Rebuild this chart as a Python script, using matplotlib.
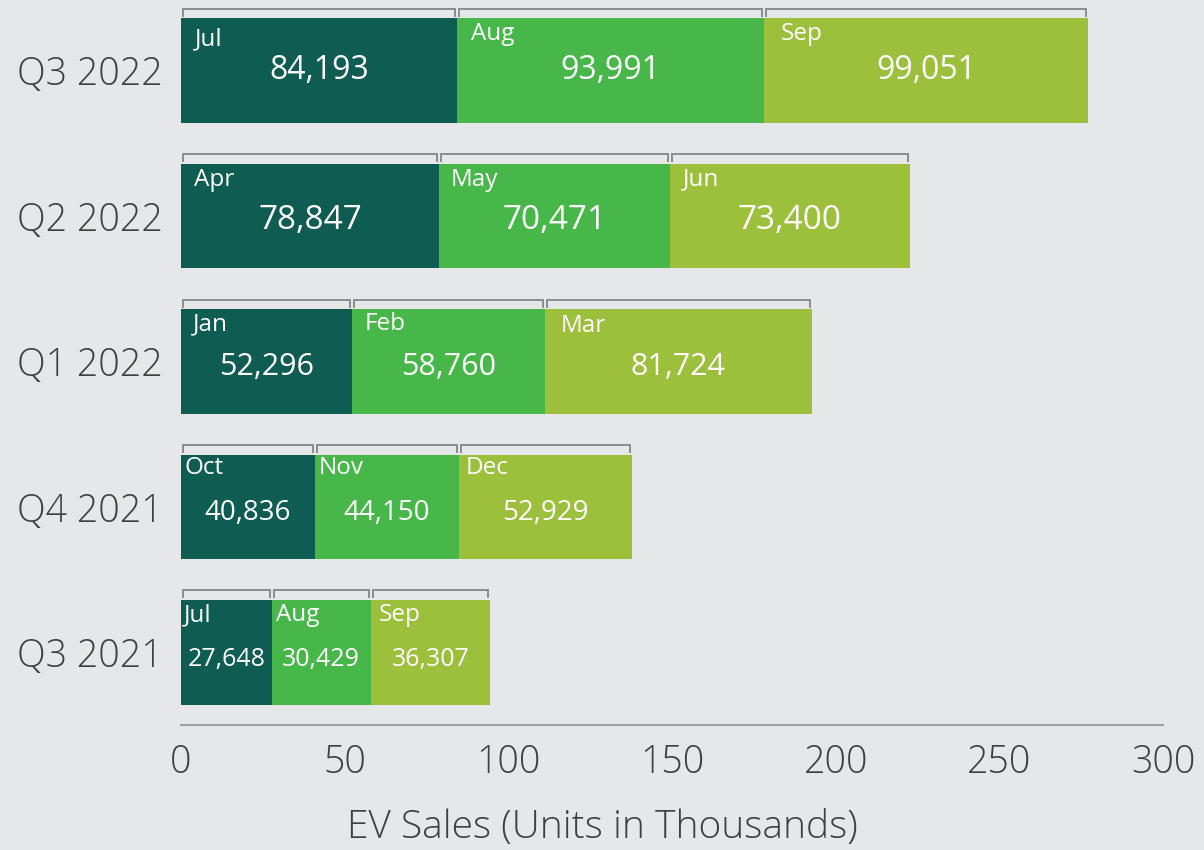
import matplotlib
matplotlib.use("Agg")
import matplotlib.pyplot as plt

plt.rcParams['font.family'] = ['Open Sans', 'DejaVu Sans']

# ---- data (bottom to top) ----
quarters = ["Q3 2021", "Q4 2021", "Q1 2022", "Q2 2022", "Q3 2022"]
months = [
    ["Jul", "Aug", "Sep"],
    ["Oct", "Nov", "Dec"],
    ["Jan", "Feb", "Mar"],
    ["Apr", "May", "Jun"],
    ["Jul", "Aug", "Sep"],
]
first_month = [27648, 40836, 52296, 78847, 84193]
second_month = [30429, 44150, 58760, 70471, 93991]
third_month = [36307, 52929, 81724, 73400, 99051]
xticks = [0, 50, 100, 150, 200, 250, 300]
xlabel = "EV Sales (Units in Thousands)"

# ---- style ----
bg = "#e6e7e9"
colors = ["#0f5c52", "#47b74a", "#9dc03c"]
text_dark = "#404040"
bracket_col = "#8c8c8c"
value_sizes = [18, 20, 22, 24, 23]
month_xoff = [[3, 4, 8], [3, 4, 6], [12, 12, 16], [13, 12, 13], [14, 14, 16]]
month_yoff = [[15, 15, 15], [13.5, 13.5, 13.5], [15, 15, 16.5], [16, 16, 16], [21.5, 16, 16]]
value_yoff = [7.5, 6, 5.5, 4, 0]

fig = plt.figure(figsize=(12.04, 8.5), dpi=100, facecolor=bg)
ax = fig.add_axes([181 / 1204, 125 / 850, (1163 - 181) / 1204, 727 / 850])
ax.set_facecolor(bg)
ax.set_xlim(0, 300)
ax.set_ylim(-0.5, 4.5)

series = [first_month, second_month, third_month]
bar_h = 0.72
px_per_unit_y = 727 / 5.0
px_per_unit_x = (1163 - 181) / 300.0

for i, q in enumerate(quarters):
    left = 0.0
    for j in range(3):
        v = series[j][i] / 1000.0
        ax.barh(i, v, left=left, height=bar_h, color=colors[j], edgecolor="none", zorder=2)
        top = i + bar_h / 2
        # bracket above the segment
        inset = 2 / px_per_unit_x
        yb = top + 9.5 / px_per_unit_y
        yt = yb - 7 / px_per_unit_y
        ax.plot([left + inset, left + inset, left + v - inset, left + v - inset],
                [yt, yb, yb, yt], color=bracket_col, lw=1.4, clip_on=False,
                solid_joinstyle="miter", zorder=3)
        # month label
        ax.annotate(months[i][j], xy=(left, top), xytext=(month_xoff[i][j], -month_yoff[i][j]),
                    textcoords="offset pixels", ha="left", va="center",
                    fontsize=17.5, color="white", fontweight="medium", zorder=4)
        # value label
        ax.annotate(f"{series[j][i]:,}", xy=(left + v / 2, i), xytext=(0, -value_yoff[i]),
                    textcoords="offset pixels", ha="center", va="center",
                    fontsize=value_sizes[i], color="white", fontweight="normal", zorder=4)
        left += v

ax.set_yticks(range(len(quarters)))
ax.set_yticklabels(quarters, fontsize=27, color=text_dark, fontweight="light")
ax.set_xticks(xticks)
ax.set_xticklabels([str(t) for t in xticks], fontsize=27, color=text_dark, fontweight="light")
ax.tick_params(axis="both", length=0)
ax.tick_params(axis="x", pad=13)
ax.tick_params(axis="y", pad=13)
for s in ["top", "right", "left"]:
    ax.spines[s].set_visible(False)
ax.spines["bottom"].set_color("#a0a0a0")
ax.spines["bottom"].set_linewidth(1.5)

fig.text(0.5, (850 - 828) / 850, xlabel, fontsize=28, color=text_dark, fontweight="light",
         ha="center", va="center")

fig.savefig("out.png", dpi=100, facecolor=bg)
